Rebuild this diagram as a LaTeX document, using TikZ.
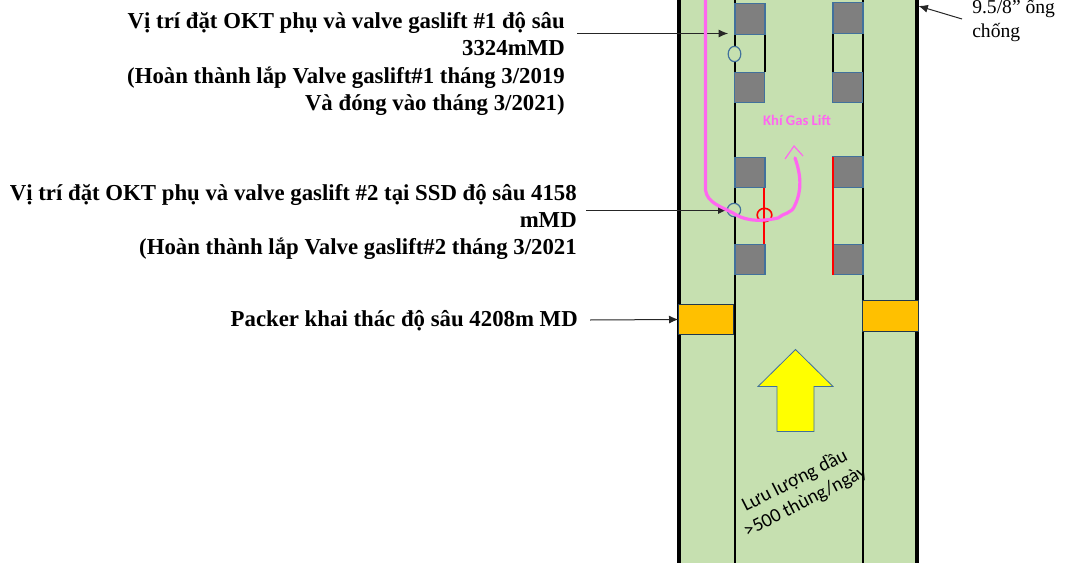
\documentclass[tikz,border=0pt]{standalone}
\usepackage{fontspec}
\setmainfont{Liberation Serif}
\newfontfamily\calfont{Carlito}
\usetikzlibrary{arrows.meta,shapes.geometric}
\definecolor{pipegreen}{HTML}{C6E0B0}
\definecolor{edgeblue}{HTML}{41719C}
\definecolor{gasmag}{HTML}{FF66F0}
\definecolor{blockgray}{HTML}{7F7F7F}
\definecolor{packergold}{HTML}{FFC000}
\definecolor{flowyellow}{HTML}{FFFF00}
\tikzset{
  x=0.75pt,y=-0.75pt,
  block/.style={draw=edgeblue,line width=0.9pt,fill=blockgray,minimum width=22.5pt,minimum height=22.8pt,inner sep=0pt,outer sep=0pt},
  packer/.style={draw=black!50!edgeblue,line width=0.9pt,fill=packergold,minimum width=41.5pt,minimum height=23pt,inner sep=0pt,outer sep=0pt},
  casing/.style={line width=3pt,black},
  tubing/.style={line width=1.5pt,black},
  redline/.style={line width=1.5pt,red},
  note/.style={font=\bfseries\fontsize{17.1}{20.6}\selectfont,align=right,anchor=east,inner sep=0pt},
  lead/.style={line width=0.75pt,black!85,-{Latex[length=7pt,width=6pt]}},
  valve/.style={ellipse,draw=edgeblue,line width=0.9pt,inner sep=0pt,outer sep=0pt},
}
\begin{document}
\begin{tikzpicture}
\useasboundingbox (0,0) rectangle (1073,563);
\fill[pipegreen] (678,0) rectangle (917,563);
\draw[casing] (678.5,0) -- (678.5,563);
\draw[casing] (917,0) -- (917,563);
\draw[tubing] (734.5,0) -- (734.5,563);
\draw[tubing] (863,0) -- (863,563);
\draw[tubing] (764.5,34) -- (764.5,72);
\draw[tubing] (832.5,33) -- (832.5,72);
\draw[redline] (764,188) -- (764,244);
% blocks
\node[block] (b1) at (750,19) {};
\node[block] (b2) at (848,18) {};
\node[block] (b3) at (749.5,87.5) {};
\node[block] (b4) at (847.5,87.5) {};
\node[block] (b5) at (750,172.5) {};
\node[block] (b6) at (848,172) {};
\node[block] (b7) at (750,259.5) {};
\node[block] (b8) at (848,259.5) {};
\draw[redline] (832.5,157) -- (832.5,275);
\node[packer] (p1) at (706,319.5) {};
\node[packer] (p2) at (890.5,316) {};
\node[valve,fill=pipegreen,minimum width=9.5pt,minimum height=11.5pt] (v1) at (734.5,54) {};
\node[valve,fill=pipegreen,minimum width=10pt,minimum height=10pt] (v2) at (734,210) {};
\node[valve,draw=red,line width=1.2pt,minimum width=11pt,minimum height=10pt] (v3) at (764.5,215) {};
% flow arrow
\draw[edgeblue,line width=0.6pt,fill=flowyellow] (795.5,349.5) -- (833,386.5) -- (814,386.5) -- (814,431.5) -- (777,431.5) -- (777,386.5) -- (758,386.5) -- cycle;
% labels
\node[font=\calfont\bfseries\fontsize{11}{13}\selectfont,text=gasmag,inner sep=0pt] (gas) at (797,120) {Khí Gas Lift};
\node[font=\calfont\fontsize{14.6}{17.5}\selectfont,align=center,rotate=27,inner sep=0pt] (oil) at (800,491) {Lưu lượng dầu\\>500 thùng/ngày};
\node[note] (n1) at (565,64) {Vị trí đặt OKT phụ và valve gaslift \#1 độ sâu\\3324mMD\\(Hoàn thành lắp Valve gaslift\#1 tháng 3/2019\\Và đóng vào tháng 3/2021)};
\node[note] (n2) at (577,222) {Vị trí đặt OKT phụ và valve gaslift \#2 tại SSD độ sâu 4158\\mMD\\(Hoàn thành lắp Valve gaslift\#2 tháng 3/2021};
\node[note] (n3) at (578,321) {Packer khai thác độ sâu 4208m MD};
\node[font=\fontsize{14.7}{18}\selectfont,align=left,anchor=west,inner sep=0pt] (n4) at (972,21) {9.5/8” ống\\chống};
% leaders
\coordinate (t1) at (728,33.5);
\coordinate (s1) at (577,33.5);
\coordinate (s2) at (586,210);
\coordinate (s3) at (590,320);
\coordinate (s4) at (962,19);
\coordinate (t4) at (918.5,6);
\draw[lead] (s1) -- (t1);
\draw[lead] (s2) -- (v2.west);
\draw[lead] (s3) -- (p1.west);
\draw[lead] (s4) -- (t4);
% gas path
\draw[gasmag,line width=2.4pt,line join=round,line cap=round] (705.5,0) -- (705.5,190) .. controls (707,203) and (722,207) .. (733,213) .. controls (742,219) and (755,223) .. (778,218) .. controls (783,213) and (792,214) .. (795,205) .. controls (802,190) and (801,175) .. (795,158);
\draw[gasmag,line width=0.9pt] (785,159) -- (794,146) -- (803,156);
\end{tikzpicture}
\end{document}
